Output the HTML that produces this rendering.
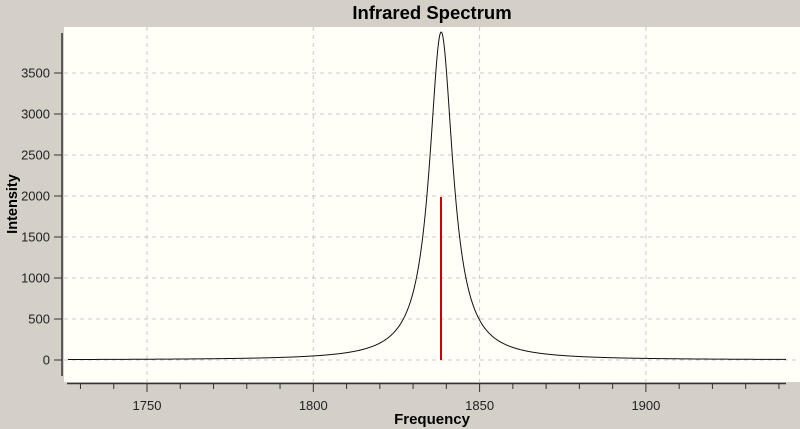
<!DOCTYPE html>
<html><head><meta charset="utf-8"><style>
body{margin:0;background:#d4d0c8;}
svg{display:block;font-family:"Liberation Sans",sans-serif;}
</style></head><body>
<svg id="s" width="800" height="429" xmlns="http://www.w3.org/2000/svg">
<rect width="800" height="429" fill="#d4d0c8"/>
<text x="432" y="19" font-size="18.5" font-weight="bold" text-anchor="middle" fill="#000">Infrared Spectrum</text>
<rect x="64" y="27" width="736" height="355" fill="#fffff8"/>
<g id="grid" stroke="#c8c8c8" stroke-dasharray="4,4" stroke-width="1"></g>
<line x1="62" y1="33" x2="62" y2="376" stroke="#333" stroke-width="1.5"/>
<line x1="67" y1="383.5" x2="786" y2="383.5" stroke="#333" stroke-width="1.5"/>
<g id="ax" font-size="13" fill="#222"></g>
<path id="curve" fill="none" stroke="#111" stroke-width="1"/>
<line x1="441" y1="197" x2="441" y2="360" stroke="#cc0000" stroke-width="2"/>
<text x="432" y="424" font-size="15" font-weight="bold" text-anchor="middle">Frequency</text>
<text transform="translate(17,204) rotate(-90)" font-size="14.5" font-weight="bold" text-anchor="middle">Intensity</text>
</svg>
<script>
var NS="http://www.w3.org/2000/svg";
function fx(f){return 147+(f-1750)*166.3/50;}
function fy(v){return 360-v*0.082;}
function el(n,a,p,t){var e=document.createElementNS(NS,n);for(var k in a)e.setAttribute(k,a[k]);if(t)e.textContent=t;document.getElementById(p).appendChild(e);return e;}
[1750,1800,1850,1900].forEach(function(f){var x=fx(f);el("line",{x1:x,y1:27,x2:x,y2:382},"grid");el("line",{x1:x,y1:383,x2:x,y2:392,stroke:"#333"},"ax");el("text",{x:x,y:410,"text-anchor":"middle"},"ax",""+f);});
for(var f=1730;f<=1940;f+=10){if(f%50){var x=fx(f);el("line",{x1:x,y1:383,x2:x,y2:389,stroke:"#333"},"ax");}}
for(var v=0;v<=3500;v+=500){var y=fy(v);el("line",{x1:64,y1:y,x2:800,y2:y},"grid");el("line",{x1:54,y1:y,x2:62,y2:y,stroke:"#333"},"ax");el("text",{x:50,y:y+4.5,"text-anchor":"end"},"ax",""+v);}
var d="",g=4.3,c=1838.4;
for(var x=68;x<=786;x+=0.5){var f=1725+(x-64)*50/166.3;var v=4000*g*g/((f-c)*(f-c)+g*g);d+=(d?"L":"M")+x+","+fy(v).toFixed(2);}
document.getElementById("curve").setAttribute("d",d);
</script>
</body></html>
